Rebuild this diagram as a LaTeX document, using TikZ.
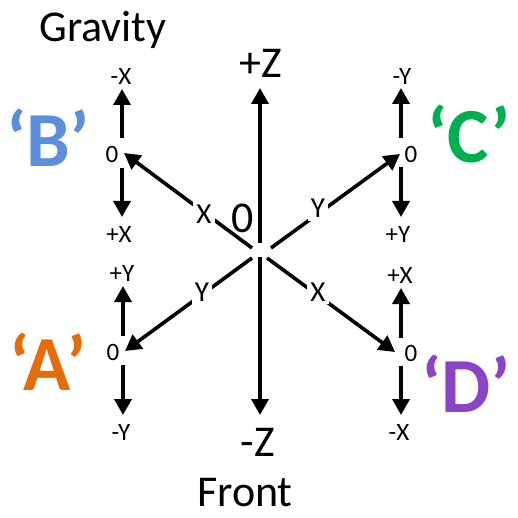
\documentclass[tikz,border=0pt]{standalone}
\usepackage{fontspec}
\setmainfont{Carlito}
\usetikzlibrary{arrows.meta}
\definecolor{cB}{HTML}{5B8FD9}
\definecolor{cC}{HTML}{00B050}
\definecolor{cA}{HTML}{E46C0A}
\definecolor{cD}{HTML}{8A45C6}
\tikzset{
  big/.style={inner sep=0pt, anchor=base, font=\fontsize{44}{48}\selectfont},
  small/.style={inner sep=0pt, anchor=base, font=\fontsize{25}{28}\selectfont},
  armlbl/.style={inner sep=3pt, anchor=base, fill=white, font=\fontsize{29}{32}\selectfont},
  letter/.style={inner sep=0pt, anchor=base, font=\fontsize{78}{82}\selectfont\bfseries},
  arr/.style={line width=3.6pt, -{Triangle[width=17pt,length=16pt]}}
}
\begin{document}
\begin{tikzpicture}[x=1pt,y=-1pt]
\path[use as bounding box] (0,0) rectangle (517,518);

% titles
\node[big] (grav) at (103,42) {Gravity};
\node[big] (pz) at (261,78) {+Z};
\node[big] (mz) at (258,456) {-Z};
\node[big] (front) at (245,506) {Front};
\node[big] (orig) at (243,233) {0};

% main vertical axis
\coordinate (vtop0) at (260,243);
\coordinate (vtop) at (260,88);
\coordinate (vbot0) at (260,257);
\coordinate (vbot) at (260,415);
\draw[arr] (vtop0) -- (vtop);
\draw[arr] (vbot0) -- (vbot);

% diagonal arms
\coordinate (sB) at (252,248);
\coordinate (tB) at (124,153);
\coordinate (sC) at (271,248);
\coordinate (tC) at (400,154);
\coordinate (sA) at (252,258);
\coordinate (tA) at (125,351);
\coordinate (sD) at (267,258);
\coordinate (tD) at (395,352);
\draw[arr] (sB) -- (tB);
\draw[arr] (sC) -- (tC);
\draw[arr] (sA) -- (tA);
\draw[arr] (sD) -- (tD);

% arm labels
\node[armlbl] (lx1) at (204,223) {X};
\node[armlbl] (ly1) at (318,218) {Y};
\node[armlbl] (ly2) at (202,301) {Y};
\node[armlbl] (lx2) at (318,301) {X};

% group B
\coordinate (bU0) at (122,138); \coordinate (bU) at (122,89);
\coordinate (bD0) at (122,168); \coordinate (bD) at (122,217);
\draw[arr] (bU0) -- (bU);
\draw[arr] (bD0) -- (bD);
\node[small] (bm) at (121,85) {-X};
\node[small] (bz) at (112,163) {0};
\node[small] (bp) at (119,242) {+X};

% group C
\coordinate (cU0) at (401,138); \coordinate (cU) at (401,88);
\coordinate (cD0) at (401,167); \coordinate (cD) at (401,217);
\draw[arr] (cU0) -- (cU);
\draw[arr] (cD0) -- (cD);
\node[small] (cm) at (402,85) {-Y};
\node[small] (cz) at (411,163) {0};
\node[small] (cp) at (398,242) {+Y};

% group A
\coordinate (aU0) at (123,336); \coordinate (aU) at (123,286);
\coordinate (aD0) at (123,365); \coordinate (aD) at (123,415);
\draw[arr] (aU0) -- (aU);
\draw[arr] (aD0) -- (aD);
\node[small] (ap) at (122,281) {+Y};
\node[small] (az) at (113,360) {0};
\node[small] (am) at (121,440) {-Y};

% group D
\coordinate (dU0) at (401,338); \coordinate (dU) at (401,288);
\coordinate (dD0) at (401,366); \coordinate (dD) at (401,415);
\draw[arr] (dU0) -- (dU);
\draw[arr] (dD0) -- (dD);
\node[small] (dp) at (400,283) {+X};
\node[small] (dz) at (411,361) {0};
\node[small] (dm) at (399,440) {-X};

% big letters
\node[letter, text=cB] (LB) at (48,167) {‘B’};
\node[letter, text=cC] (LC) at (469,163) {‘C’};
\node[letter, text=cA] (LA) at (48,390) {‘A’};
\node[letter, text=cD] (LD) at (466,412) {‘D’};
\end{tikzpicture}
\end{document}
